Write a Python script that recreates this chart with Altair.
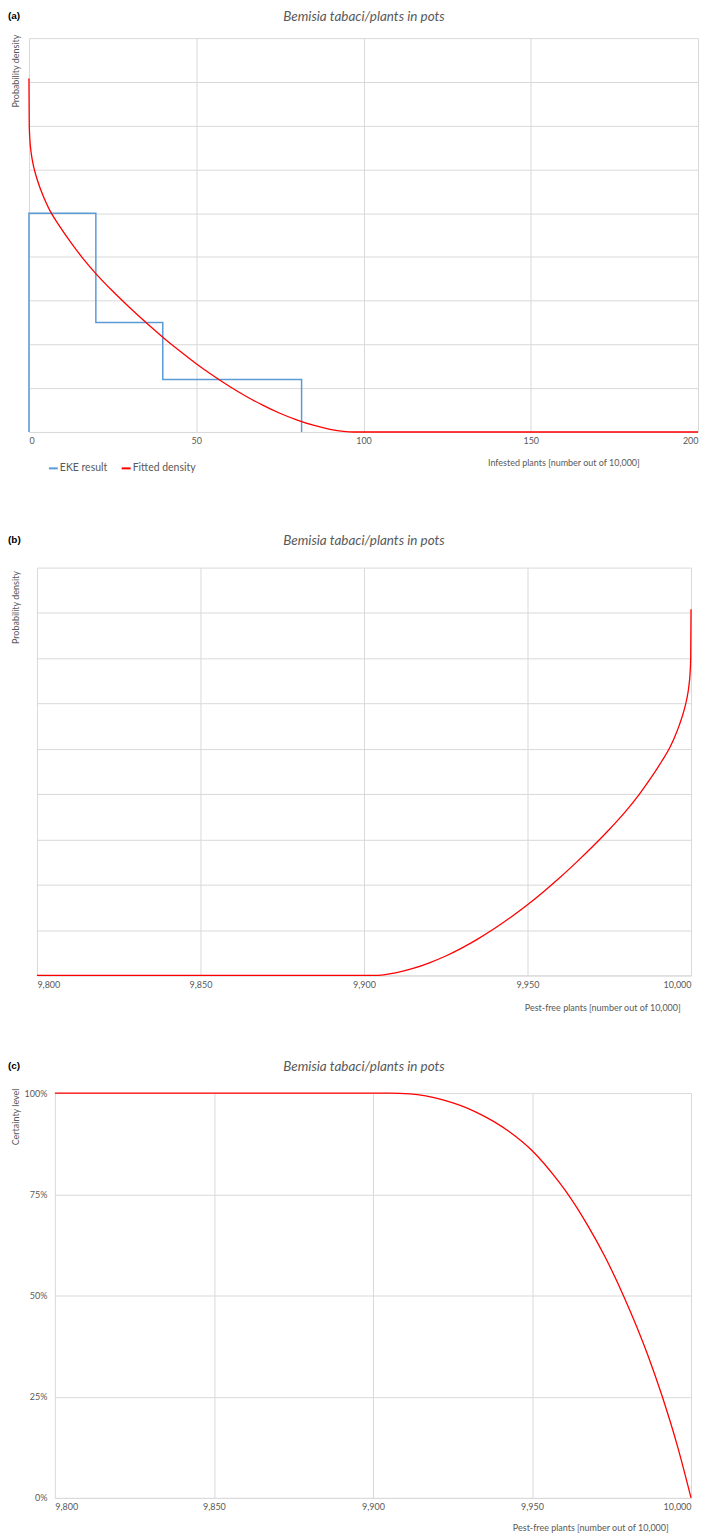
import altair as alt
import pandas as pd

TITLE = "Bemisia tabaci/plants in pots"
FONT = "Lato"
GREY = "#595959"
GRID = "#d9d9d9"
BLUE = "#5B9BD5"
RED = "#FF0000"

# EKE histogram (infested plants): bin edges and densities
eke_edges = [0, 20, 40, 81.5]
eke_heights = [0.025, 0.0125, 0.006]

# fitted density (infested plants out of 10,000)
dens_x = [0, 0.1, 0.3, 0.7, 1.3, 2.1, 3.5, 5, 6.4, 9, 13, 16, 20, 25, 30, 35,
          40, 45, 50, 55, 60, 65, 70, 75, 80, 85, 90, 94, 97, 200]
dens_y = [0.0404, 0.0350, 0.0333, 0.0318, 0.0305, 0.0293, 0.0277, 0.0263,
          0.0252, 0.0236, 0.0214, 0.0199, 0.0181, 0.0161, 0.01425, 0.0125,
          0.01083, 0.00927, 0.0078, 0.00645, 0.0052, 0.00406, 0.00304, 0.00214,
          0.00139, 0.00077, 0.00031, 0.00007, 0, 0]

# certainty level (pest-free plants out of 10,000)
cert_x = [9800, 9900, 9905, 9911.6, 9922, 9932.4, 9942.8, 9950, 9958.4,
          9961.5, 9967.6, 9973, 9978.9, 9986.4, 9990.8, 9995.8, 10000]
cert_y = [1.0, 1.0, 0.9999, 0.998, 0.983, 0.953, 0.905, 0.858, 0.781,
          0.748, 0.672, 0.595, 0.497, 0.353, 0.254, 0.126, 0.0]

series_names = ["EKE result", "Fitted density"]
panel_labels = ["(a)", "(b)", "(c)"]
xa_ticks = [0, 50, 100, 150, 200]
xb_ticks = [9800, 9850, 9900, 9950, 10000]
dens_grid = [0, 0.005, 0.01, 0.015, 0.02, 0.025, 0.03, 0.035, 0.04, 0.045]
cert_ticks = [0, 0.25, 0.5, 0.75, 1.0]

# ---- data tables
step_x = [eke_edges[0]] + eke_edges
step_y = [0] + eke_heights + [0]
eke_df = pd.DataFrame({"x": step_x, "y": step_y, "i": range(len(step_x)),
                       "series": series_names[0]})
dens_df = pd.DataFrame({"x": dens_x, "y": dens_y, "i": range(len(dens_x)),
                        "series": series_names[1]})
cert_df = pd.DataFrame({"x": cert_x, "y": cert_y})

W = 671          # width of every view (common origin)
TITLE_X = 336    # centre of the panel titles


def header(label, label_y, title_y):
    lab = alt.Chart(pd.DataFrame({"t": [label]})).mark_text(
        font="Liberation Sans", fontWeight="bold", fontSize=10, color="#000000",
        align="left", baseline="middle"
    ).encode(x=alt.value(-21), y=alt.value(label_y), text="t:N")
    ttl = alt.Chart(pd.DataFrame({"t": [TITLE]})).mark_text(
        font=FONT, fontStyle="italic", fontSize=13.5, color=GREY,
        align="center", baseline="middle"
    ).encode(x=alt.value(TITLE_X), y=alt.value(title_y), text="t:N")
    return [lab, ttl]


color_scale = alt.Scale(domain=series_names, range=[BLUE, RED])

# ---------------- panel (a)
H_A = 395
xa = alt.X("x:Q", scale=alt.Scale(domain=[0, 200], range=[0, W], nice=False),
           axis=alt.Axis(values=xa_ticks, title="Infested plants [number out of 10,000]",
                         titleX=536, titleY=31, titleAlign="center",
                         titleBaseline="middle", labelPadding=5, format="d"))
ya = alt.Y("y:Q", scale=alt.Scale(domain=[0, 0.045], nice=False),
           axis=alt.Axis(values=dens_grid, labels=False, ticks=False, domain=False,
                         title="Probability density", titleX=-13, titleY=-4,
                         titleAngle=270, titleAlign="right", titleBaseline="middle"))

eke_line = alt.Chart(eke_df).mark_line(interpolate="step-after", strokeWidth=1.5).encode(
    x=xa, y=ya, order="i:Q",
    color=alt.Color("series:N", scale=color_scale,
                    legend=alt.Legend(title=None, orient="none",
                                      legendX=19, legendY=H_A + 31,
                                      direction="horizontal", symbolType="stroke",
                                      symbolSize=81, symbolStrokeWidth=2,
                                      labelFontSize=10.5, labelColor=GREY, labelFont=FONT,
                                      columnPadding=10, labelOffset=1, padding=0)))
dens_line = alt.Chart(dens_df).mark_line(interpolate="monotone", strokeWidth=1.3).encode(
    x=xa, y=ya, order="i:Q", color=alt.Color("series:N", scale=color_scale))

# invisible spacer that reserves the room the legend takes below panel (a)
spacer = alt.Chart(pd.DataFrame({"s": [0]})).mark_rule(
    strokeOpacity=0, opacity=0
).encode(x=alt.value(0), y=alt.value(H_A + 40), y2=alt.value(H_A + 54))

panel_a = alt.layer(eke_line, dens_line, spacer,
                    *header(panel_labels[0], -22, -21)).properties(width=W, height=H_A)

# ---------------- panel (b)
H_B = 409
xb = alt.X("pf:Q", scale=alt.Scale(domain=[9800, 10000], range=[8, W - 7], nice=False),
           axis=alt.Axis(values=xb_ticks, title="Pest-free plants [number out of 10,000]",
                         titleX=575, titleY=32, titleAlign="center",
                         titleBaseline="middle", labelPadding=5, format=",.0f"))
yb = alt.Y("y:Q", scale=alt.Scale(domain=[0, 0.045], nice=False),
           axis=alt.Axis(values=dens_grid, labels=False, ticks=False, domain=False,
                         title="Probability density", titleX=-13, titleY=3,
                         titleAngle=270, titleAlign="right", titleBaseline="middle"))
dens_b = alt.Chart(dens_df).transform_calculate(pf="10000 - datum.x").mark_line(
    interpolate="monotone", strokeWidth=1.3, color=RED).encode(x=xb, y=yb, order="i:Q")
panel_b = alt.layer(dens_b, *header(panel_labels[1], -28, -27)).properties(
    width=W, height=H_B)

# ---------------- panel (c)
H_C = 406
xc = alt.X("x:Q", scale=alt.Scale(domain=[9800, 10000], range=[26, W - 7], nice=False),
           axis=alt.Axis(values=xb_ticks, title="Pest-free plants [number out of 10,000]",
                         titleX=563, titleY=30, titleAlign="center",
                         titleBaseline="middle", labelPadding=5, format=",.0f"))
yc = alt.Y("y:Q", scale=alt.Scale(domain=[0, 1], nice=False),
           axis=alt.Axis(values=cert_ticks, format="%", ticks=False, domain=False,
                         offset=-26, labelPadding=8, title="Certainty level",
                         titleX=-39, titleY=-5, titleAngle=270, titleAlign="right",
                         titleBaseline="middle"))
cert_line = alt.Chart(cert_df).mark_line(interpolate="monotone", strokeWidth=1.3,
                                         color=RED).encode(x=xc, y=yc)
panel_c = alt.layer(cert_line, *header(panel_labels[2], -27, -26)).properties(
    width=W, height=H_C)

chart = alt.vconcat(panel_a, panel_b, panel_c, spacing=48).properties(
    padding=0
).configure_view(stroke=None).configure_axis(
    gridColor=GRID, gridWidth=1, domainColor=GRID, labelColor=GREY, titleColor=GREY,
    labelFont=FONT, titleFont=FONT, titleFontWeight="normal", labelFontSize=9,
    titleFontSize=9, tickSize=0, ticks=False
)

chart.save("out.html", embed_options={"renderer": "svg", "actions": False})
